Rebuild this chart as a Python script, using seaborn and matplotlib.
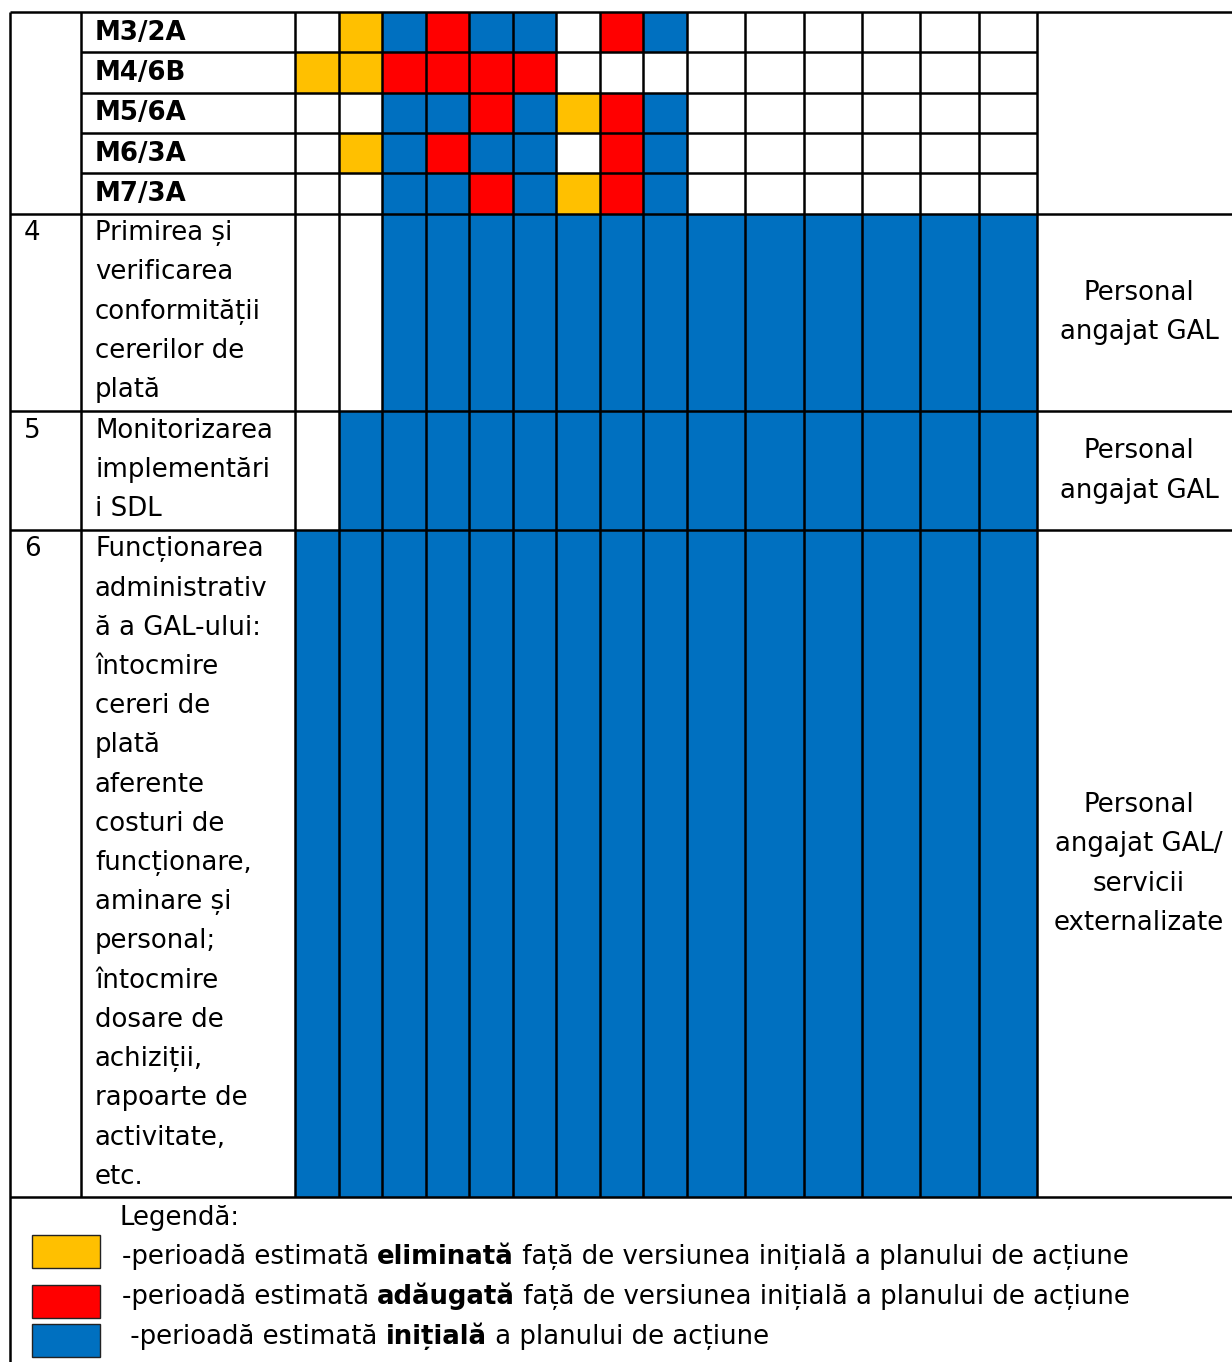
import numpy as np
import pandas as pd
import matplotlib.pyplot as plt
import seaborn as sns
from matplotlib.colors import ListedColormap
from matplotlib.patches import Rectangle

sns.set_style("white")
plt.rcParams['font.family'] = ['DejaVu Sans']
plt.rcParams['text.color'] = 'black'

W, H = 1232, 1362
FS = 18.7

# ---- data ----
measures = ["M3/2A", "M4/6B", "M5/6A", "M6/3A", "M7/3A"]
# W = empty, Y = eliminated, R = added, B = initial period
row_m3_2a = list("WYBRBBWRBWWWWWW")
row_m4_6b = list("YYRRRRWWWWWWWWW")
row_m5_6a = list("WWBBRBYRBWWWWWW")
row_m6_3a = list("WYBRBBWRBWWWWWW")
row_m7_3a = list("WWBBRBYRBWWWWWW")
row_act4 = list("WWBBBBBBBBBBBBB")
row_act5 = list("WBBBBBBBBBBBBBB")
row_act6 = list("BBBBBBBBBBBBBBB")

act_numbers = ["4", "5", "6"]
act_texts = [
    "Primirea și\nverificarea\nconformității\ncererilor de\nplată",
    "Monitorizarea\nimplementări\ni SDL",
    "Funcționarea\nadministrativ\nă a GAL-ului:\nîntocmire\ncereri de\nplată\naferente\n"
    "costuri de\nfuncționare,\naminare și\npersonal;\nîntocmire\ndosare de\nachiziții,\n"
    "rapoarte de\nactivitate,\netc.",
]
resp_texts = [
    "Personal\nangajat GAL",
    "Personal\nangajat GAL",
    "Personal\nangajat GAL/\nservicii\nexternalizate",
]

legend_title = "Legendă:"
legend_lines = [
    [("-perioadă estimată ", "normal"), ("eliminată", "bold"),
     (" față de versiunea inițială a planului de acțiune", "normal")],
    [("-perioadă estimată ", "normal"), ("adăugată", "bold"),
     (" față de versiunea inițială a planului de acțiune", "normal")],
    [(" -perioadă estimată ", "normal"), ("inițială", "bold"),
     (" a planului de acțiune", "normal")],
]
legend_codes = ["Y", "R", "B"]

codes = {"W": 0, "Y": 1, "R": 2, "B": 3}
palette = ["#FFFFFF", "#FFC000", "#FF0000", "#0070C0"]
cmap = ListedColormap(palette)

grid = pd.DataFrame([row_m3_2a, row_m4_6b, row_m5_6a, row_m6_3a, row_m7_3a,
                     row_act4, row_act5, row_act6]).replace(codes).astype(int)

# ---- layout (pixels) ----
x_left, x_num, x_act = 10, 81, 295
x_mid, x_end = 687, 1037
month_edges = np.concatenate([np.linspace(x_act, x_mid, 10), np.linspace(x_mid, x_end, 7)[1:]])
y_top = 12
mini_edges = np.linspace(y_top, 213.7, 6)
block_edges = [213.7, 411, 530, 1197]
line_h = 39.2

fig = plt.figure(figsize=(W / 100, H / 100), dpi=100)

# month cells as heatmaps, one per row block and column group
row_blocks = [(0, 5, mini_edges[0], mini_edges[-1]),
              (5, 6, block_edges[0], block_edges[1]),
              (6, 7, block_edges[1], block_edges[2]),
              (7, 8, block_edges[2], block_edges[3])]
col_groups = [(0, 9, x_act, x_mid), (9, 15, x_mid, x_end)]
for r0, r1, y0, y1 in row_blocks:
    for c0, c1, x0, x1 in col_groups:
        hax = fig.add_axes([x0 / W, 1 - y1 / H, (x1 - x0) / W, (y1 - y0) / H])
        sns.heatmap(grid.iloc[r0:r1, c0:c1], cmap=cmap, vmin=-0.5, vmax=3.5,
                    cbar=False, xticklabels=False, yticklabels=False,
                    linewidths=0, ax=hax)
        hax.set_axis_off()

# overlay for table lines and text
ax = fig.add_axes([0, 0, 1, 1])
ax.set_xlim(0, W)
ax.set_ylim(H, 0)
ax.set_axis_off()
ax.patch.set_alpha(0)

lw = 1.8
ax.hlines([y_top] + block_edges, x_left, W, color='black', lw=lw)
ax.hlines(mini_edges[1:-1], x_num, x_end, color='black', lw=lw)
ax.vlines(x_left, y_top, H, color='black', lw=lw)
ax.vlines([x_num] + list(month_edges), y_top, block_edges[-1], color='black', lw=lw)

# measure labels
for i, m in enumerate(measures):
    ax.text(95, mini_edges[i] + 27.5, m, fontsize=FS, fontweight='bold', va='baseline')

# activity rows
x_resp = 1139
for i in range(3):
    top, bottom = block_edges[i], block_edges[i + 1]
    ax.text(24, top + 26.5, act_numbers[i], fontsize=FS, va='baseline')
    for j, line in enumerate(act_texts[i].split("\n")):
        ax.text(95, top + 26.5 + j * line_h, line, fontsize=FS, va='baseline')
    lines = resp_texts[i].split("\n")
    first = (top + bottom) / 2 - (len(lines) - 1) / 2 * line_h + 7.5
    for j, line in enumerate(lines):
        ax.text(x_resp, first + j * line_h, line, fontsize=FS, va='baseline', ha='center')

# legend
ax.text(120, 1225, legend_title, fontsize=FS, va='baseline')
renderer = fig.canvas.get_renderer()
sw_y = [1235, 1285, 1324]
for k, segs in enumerate(legend_lines):
    ax.add_patch(Rectangle((32, sw_y[k]), 68, 33, facecolor=palette[codes[legend_codes[k]]],
                           edgecolor='#222222', lw=1))
    x = 122
    y = 1264.5 + k * 39.5
    for txt, weight in segs:
        t = ax.text(x, y, txt, fontsize=FS, fontweight=weight, va='baseline')
        x += t.get_window_extent(renderer).width

fig.savefig('out.png', dpi=100)
